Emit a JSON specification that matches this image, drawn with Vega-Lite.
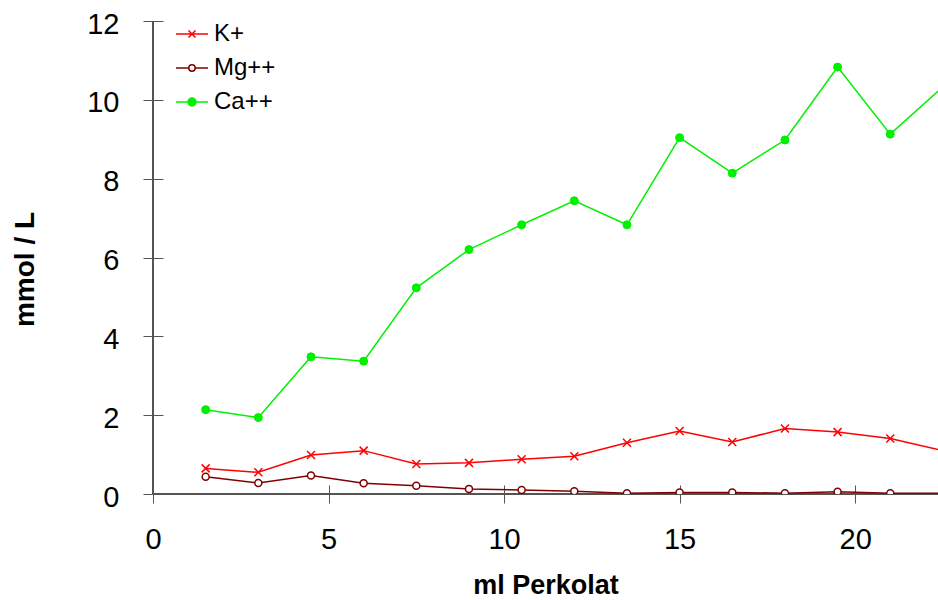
{
  "$schema": "https://vega.github.io/schema/vega-lite/v6.json",
  "width": 785,
  "height": 473,
  "autosize": {"type": "none"},
  "padding": {"left": 153, "top": 21, "right": 0, "bottom": 106},
  "background": "white",
  "config": {
    "view": {"stroke": null},
    "font": "Liberation Sans",
    "axis": {"labelFont": "Liberation Sans", "titleFont": "Liberation Sans", "labelFlush": false},
    "legend": {"labelFont": "Liberation Sans"}
  },
  "data": {
    "values": [
      {"ml": 1.5, "ion": "K+", "v": 0.65}, {"ml": 3, "ion": "K+", "v": 0.55}, {"ml": 4.5, "ion": "K+", "v": 0.99},
      {"ml": 6, "ion": "K+", "v": 1.10}, {"ml": 7.5, "ion": "K+", "v": 0.76}, {"ml": 9, "ion": "K+", "v": 0.79},
      {"ml": 10.5, "ion": "K+", "v": 0.88}, {"ml": 12, "ion": "K+", "v": 0.96}, {"ml": 13.5, "ion": "K+", "v": 1.30},
      {"ml": 15, "ion": "K+", "v": 1.60}, {"ml": 16.5, "ion": "K+", "v": 1.32}, {"ml": 18, "ion": "K+", "v": 1.66},
      {"ml": 19.5, "ion": "K+", "v": 1.57}, {"ml": 21, "ion": "K+", "v": 1.41}, {"ml": 22.5, "ion": "K+", "v": 1.10},
      {"ml": 1.5, "ion": "Mg++", "v": 0.44}, {"ml": 3, "ion": "Mg++", "v": 0.28}, {"ml": 4.5, "ion": "Mg++", "v": 0.47},
      {"ml": 6, "ion": "Mg++", "v": 0.27}, {"ml": 7.5, "ion": "Mg++", "v": 0.21}, {"ml": 9, "ion": "Mg++", "v": 0.13},
      {"ml": 10.5, "ion": "Mg++", "v": 0.10}, {"ml": 12, "ion": "Mg++", "v": 0.07}, {"ml": 13.5, "ion": "Mg++", "v": 0.02},
      {"ml": 15, "ion": "Mg++", "v": 0.04}, {"ml": 16.5, "ion": "Mg++", "v": 0.04}, {"ml": 18, "ion": "Mg++", "v": 0.02},
      {"ml": 19.5, "ion": "Mg++", "v": 0.06}, {"ml": 21, "ion": "Mg++", "v": 0.02}, {"ml": 22.5, "ion": "Mg++", "v": 0.02},
      {"ml": 1.5, "ion": "Ca++", "v": 2.14}, {"ml": 3, "ion": "Ca++", "v": 1.94}, {"ml": 4.5, "ion": "Ca++", "v": 3.48},
      {"ml": 6, "ion": "Ca++", "v": 3.37}, {"ml": 7.5, "ion": "Ca++", "v": 5.23}, {"ml": 9, "ion": "Ca++", "v": 6.20},
      {"ml": 10.5, "ion": "Ca++", "v": 6.83}, {"ml": 12, "ion": "Ca++", "v": 7.44}, {"ml": 13.5, "ion": "Ca++", "v": 6.83},
      {"ml": 15, "ion": "Ca++", "v": 9.04}, {"ml": 16.5, "ion": "Ca++", "v": 8.14}, {"ml": 18, "ion": "Ca++", "v": 8.98},
      {"ml": 19.5, "ion": "Ca++", "v": 10.83}, {"ml": 21, "ion": "Ca++", "v": 9.13}, {"ml": 22.5, "ion": "Ca++", "v": 10.33}
    ]
  },
  "layer": [
    {
      "mark": {"type": "rule", "color": "#555555", "strokeWidth": 1},
      "encoding": {"y": {"datum": 0, "type": "quantitative", "scale": {"domain": [0, 12], "nice": false}}}
    },
    {
      "mark": {"type": "rule", "color": "#555555", "strokeWidth": 1},
      "encoding": {"x": {"datum": 0, "type": "quantitative", "scale": {"domain": [0, 22.36], "nice": false}}}
    },
    {
      "mark": {"type": "line", "strokeWidth": 1.5, "clip": true},
      "encoding": {
        "x": {
          "field": "ml", "type": "quantitative",
          "scale": {"domain": [0, 22.36], "nice": false},
          "axis": {
            "values": [0, 5, 10, 15, 20], "domain": false, "grid": false, "offset": -9,
            "tickSize": 18, "tickColor": "#555555", "labelFontSize": 29, "labelPadding": 22,
            "labelColor": "black", "labelBaseline": "top", "labelFlush": false,
            "title": "ml Perkolat", "titleFontSize": 27, "titleFontWeight": "bold", "titleColor": "black",
            "titleY": 108, "titleBaseline": "alphabetic"
          }
        },
        "y": {
          "field": "v", "type": "quantitative",
          "scale": {"domain": [0, 12], "nice": false},
          "axis": {
            "values": [0, 2, 4, 6, 8, 10, 12], "domain": false, "grid": false, "offset": -10,
            "tickSize": 20, "tickColor": "#555555", "labelFontSize": 29, "labelPadding": 24,
            "labelColor": "black", "labelOffset": 3, "labelFlush": false,
            "title": "mmol / L", "titleFontSize": 28, "titleFontWeight": "bold", "titleColor": "black",
            "titleAngle": -90, "titleX": -130, "titleY": 248, "titleAlign": "center", "titleBaseline": "alphabetic"
          }
        },
        "stroke": {
          "field": "ion", "type": "nominal",
          "scale": {"domain": ["K+", "Mg++", "Ca++"], "range": ["#ff0000", "#800000", "#00f000"]},
          "legend": {
            "orient": "none", "legendX": 22, "legendY": -4, "title": null, "padding": 0,
            "labelFontSize": 24, "labelColor": "black", "symbolSize": 1024, "rowPadding": 5,
            "labelOffset": 5, "symbolStrokeWidth": 1.5,
            "encode": {
              "symbols": {
                "update": {
                  "shape": {"signal": "datum.value === 'K+' ? 'M-1,0H1M-0.22,-0.22L0.22,0.22M-0.22,0.22L0.22,-0.22' : datum.value === 'Mg++' ? 'M-1,0H-0.2M0.2,0H1M-0.2,0A0.2,0.2 0 1,0 0.2,0A0.2,0.2 0 1,0 -0.2,0' : 'M-1,0H1M-0.25,0A0.25,0.25 0 1,0 0.25,0A0.25,0.25 0 1,0 -0.25,0'"},
                  "fill": {"signal": "datum.value === 'Ca++' ? '#00f000' : datum.value === 'Mg++' ? 'white' : 'transparent'"},
                  "strokeWidth": {"value": 1.5},
                  "opacity": {"value": 1}
                }
              }
            }
          }
        },
        "detail": {"field": "ion"}
      }
    },
    {
      "transform": [{"filter": "datum.ion === 'K+'"}],
      "mark": {"type": "point", "shape": "M-1,-1L1,1M-1,1L1,-1", "size": 64, "strokeWidth": 1.5, "stroke": "#ff0000", "filled": false, "clip": true, "opacity": 1},
      "encoding": {
        "x": {"field": "ml", "type": "quantitative"},
        "y": {"field": "v", "type": "quantitative"}
      }
    },
    {
      "transform": [{"filter": "datum.ion === 'Mg++'"}],
      "mark": {"type": "point", "shape": "circle", "size": 49, "strokeWidth": 1.5, "stroke": "#800000", "fill": "white", "clip": true, "opacity": 1},
      "encoding": {
        "x": {"field": "ml", "type": "quantitative"},
        "y": {"field": "v", "type": "quantitative"}
      }
    },
    {
      "transform": [{"filter": "datum.ion === 'Ca++'"}],
      "mark": {"type": "point", "shape": "circle", "size": 64, "strokeWidth": 1, "stroke": "#00f000", "fill": "#00f000", "filled": true, "clip": true, "opacity": 1},
      "encoding": {
        "x": {"field": "ml", "type": "quantitative"},
        "y": {"field": "v", "type": "quantitative"}
      }
    }
  ]
}
